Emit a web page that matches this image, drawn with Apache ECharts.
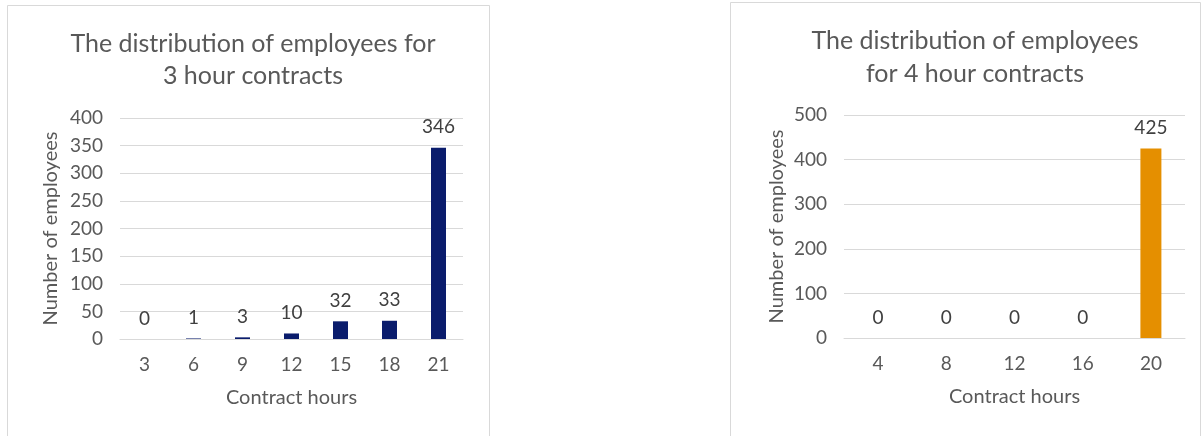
<!DOCTYPE html>
<html>
<head>
<meta charset="utf-8">
<script src="https://cdn.jsdelivr.net/npm/echarts@6/dist/echarts.min.js"></script>
<style>
  html, body { margin: 0; padding: 0; background: #ffffff; }
  #chart { width: 1203px; height: 436px; }
</style>
</head>
<body>
<div id="chart"></div>
<script>
// Contract lengths (hours) and head counts for each contract type
const hours3 = ['3', '6', '9', '12', '15', '18', '21'];
const employees3 = [0, 1, 3, 10, 32, 33, 346];

const hours4 = ['4', '8', '12', '16', '20'];
const employees4 = [0, 0, 0, 0, 425];

const title3 = 'The distribution of employees for\n3 hour contracts';
const title4 = 'The distribution of employees\nfor 4 hour contracts';
const yName = 'Number of employees';
const xName = 'Contract hours';

const FONT = 'Lato, "Open Sans", sans-serif';
const TEXT = '#595959';
const GRID = '#d9d9d9';

function xAxisFor(cats, gridIndex) {
  return {
    type: 'category',
    gridIndex: gridIndex,
    data: cats,
    name: xName,
    nameLocation: 'middle',
    nameGap: 49,
    nameTextStyle: { color: TEXT, fontSize: 20, fontFamily: FONT },
    axisLine: { show: true, lineStyle: { color: GRID, width: 1 } },
    axisTick: { show: false },
    axisLabel: { color: TEXT, fontSize: 19, fontFamily: FONT, margin: 16 }
  };
}

function yAxisFor(max, interval, gridIndex, gap) {
  return {
    type: 'value',
    gridIndex: gridIndex,
    min: 0,
    max: max,
    interval: interval,
    name: yName,
    nameLocation: 'middle',
    nameGap: gap,
    nameTextStyle: { color: TEXT, fontSize: 20, fontFamily: FONT },
    axisLine: { show: false },
    axisTick: { show: false },
    splitLine: { lineStyle: { color: GRID, width: 1 } },
    axisLabel: { color: TEXT, fontSize: 19, fontFamily: FONT, margin: 17 }
  };
}

function barSeries(values, color, width, index) {
  return {
    type: 'bar',
    xAxisIndex: index,
    yAxisIndex: index,
    data: values,
    barWidth: width,
    itemStyle: { color: color },
    label: {
      show: true,
      position: 'top',
      distance: 11,
      color: '#404040',
      fontSize: 19,
      fontFamily: FONT
    }
  };
}

const chart = echarts.init(document.getElementById('chart'), null, { renderer: 'canvas' });

chart.setOption({
  backgroundColor: '#ffffff',
  animation: false,
  graphic: [
    { type: 'rect', shape: { x: 7.5, y: 5.5, width: 482, height: 440 },
      style: { fill: 'none', stroke: GRID, lineWidth: 1 }, silent: true },
    { type: 'rect', shape: { x: 730.5, y: 2.5, width: 470, height: 445 },
      style: { fill: 'none', stroke: GRID, lineWidth: 1 }, silent: true }
  ],
  title: [
    {
      text: title3,
      left: 248, top: 23, textAlign: 'center',
      textStyle: { color: TEXT, fontSize: 25, fontWeight: 'normal', fontFamily: FONT, lineHeight: 32 }
    },
    {
      text: title4,
      left: 970, top: 19, textAlign: 'center',
      textStyle: { color: TEXT, fontSize: 25, fontWeight: 'normal', fontFamily: FONT, lineHeight: 33 }
    }
  ],
  grid: [
    { left: 120, top: 118, width: 343, height: 221 },
    { left: 844, top: 115, width: 341, height: 223 }
  ],
  xAxis: [xAxisFor(hours3, 0), xAxisFor(hours4, 1)],
  yAxis: [yAxisFor(400, 50, 0, 59), yAxisFor(500, 100, 1, 57)],
  series: [
    barSeries(employees3, '#0a1c6c', 15, 0),
    barSeries(employees4, '#e58f00', 21, 1)
  ]
});
</script>
</body>
</html>
